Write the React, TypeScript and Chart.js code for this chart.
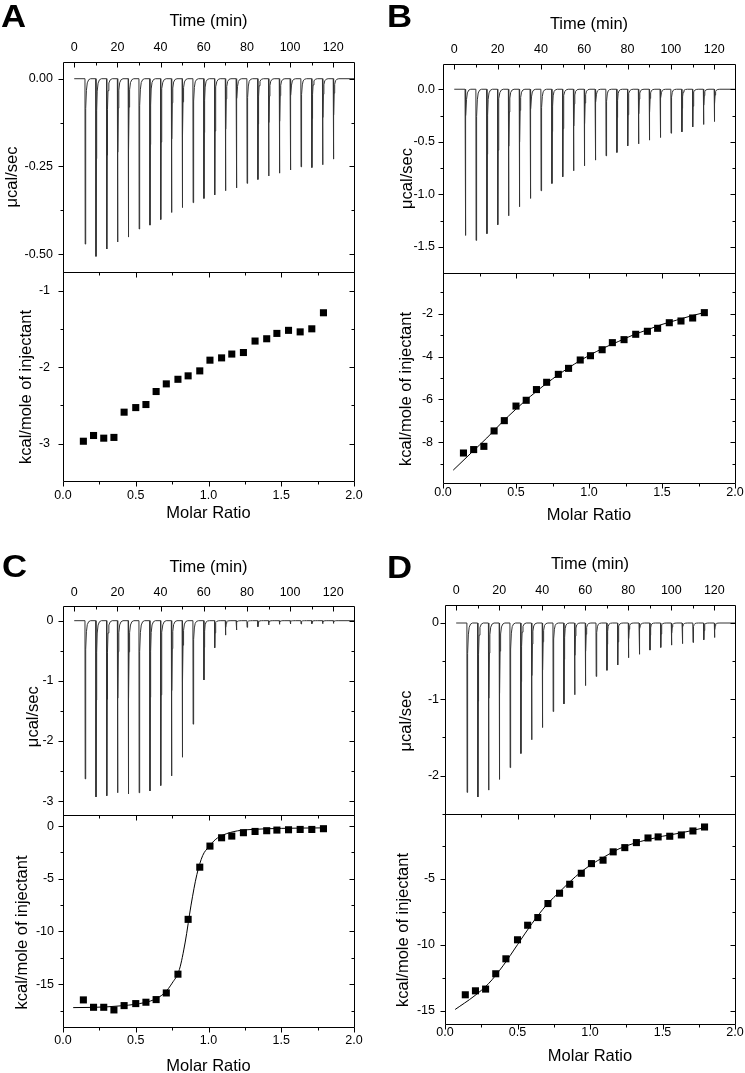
import React, { useEffect, useRef } from 'react';
import { Chart, registerables } from 'chart.js';

Chart.register(...registerables);

// ---------------- DATA ----------------
const injectionTimes = [5, 10, 15, 20, 25, 30, 35, 40, 45, 50, 55, 60, 65, 70, 75, 80, 85, 90, 95, 100, 105, 110, 115, 120];

const depthA = [-0.471, -0.506, -0.485, -0.465, -0.451, -0.428, -0.417, -0.401, -0.381, -0.367, -0.353, -0.341, -0.331, -0.319, -0.311, -0.298, -0.287, -0.277, -0.269, -0.260, -0.251, -0.253, -0.245, -0.229];
const depthB = [-1.39, -1.437, -1.373, -1.288, -1.203, -1.117, -1.038, -0.965, -0.896, -0.832, -0.775, -0.728, -0.674, -0.633, -0.601, -0.538, -0.519, -0.484, -0.459, -0.418, -0.405, -0.358, -0.335, -0.307];
const depthC = [-2.63, -2.93, -2.91, -2.86, -2.88, -2.86, -2.83, -2.74, -2.58, -2.27, -1.72, -0.985, -0.45, -0.24, -0.155, -0.11, -0.10, -0.07, -0.06, -0.055, -0.055, -0.05, -0.05, -0.045];
const depthD = [-2.22, -2.28, -2.19, -2.05, -1.895, -1.71, -1.53, -1.37, -1.16, -1.06, -0.94, -0.82, -0.70, -0.62, -0.55, -0.455, -0.41, -0.355, -0.32, -0.29, -0.27, -0.255, -0.22, -0.19];

const molarRatio = [0.14, 0.21, 0.28, 0.35, 0.42, 0.50, 0.57, 0.64, 0.71, 0.79, 0.86, 0.94, 1.01, 1.09, 1.16, 1.24, 1.32, 1.40, 1.47, 1.55, 1.63, 1.71, 1.79];

const heatA = [-2.97, -2.895, -2.93, -2.92, -2.59, -2.53, -2.49, -2.32, -2.22, -2.16, -2.115, -2.05, -1.91, -1.88, -1.83, -1.81, -1.66, -1.63, -1.56, -1.52, -1.54, -1.50, -1.29];
const heatB = [-8.50, -8.34, -8.19, -7.47, -6.99, -6.31, -6.04, -5.54, -5.20, -4.83, -4.55, -4.16, -3.96, -3.68, -3.35, -3.21, -2.96, -2.82, -2.68, -2.42, -2.34, -2.20, -1.95];
const heatC = [-16.49, -17.19, -17.19, -17.44, -17.03, -16.84, -16.71, -16.46, -15.83, -14.05, -8.85, -3.90, -1.90, -1.11, -0.95, -0.63, -0.51, -0.44, -0.38, -0.35, -0.32, -0.32, -0.25];
const heatD = [-13.79, -13.49, -13.36, -12.20, -11.07, -9.63, -8.53, -7.95, -6.89, -6.11, -5.43, -4.60, -3.87, -3.61, -2.98, -2.66, -2.28, -1.93, -1.85, -1.80, -1.70, -1.40, -1.10];

const fitXB = [0.07, 0.2, 0.3, 0.4, 0.5, 0.6, 0.7, 0.8, 0.9, 1.0, 1.1, 1.2, 1.3, 1.4, 1.5, 1.6, 1.7, 1.8];
const fitYB = [-9.3, -8.45, -7.8, -7.1, -6.45, -5.85, -5.3, -4.8, -4.35, -3.95, -3.6, -3.3, -3.0, -2.75, -2.5, -2.3, -2.1, -1.93];

const fitXC = [0.07, 0.2, 0.3, 0.4, 0.5, 0.6, 0.65, 0.7, 0.75, 0.8, 0.84, 0.88, 0.92, 0.96, 1.0, 1.05, 1.1, 1.2, 1.3, 1.5, 1.8];
const fitYC = [-17.22, -17.2, -17.15, -17.05, -16.9, -16.6, -16.3, -15.8, -14.9, -13.6, -11.0, -7.5, -4.6, -2.8, -2.0, -1.25, -0.85, -0.45, -0.32, -0.22, -0.17];

const fitXD = [0.07, 0.2, 0.3, 0.4, 0.5, 0.6, 0.7, 0.8, 0.9, 1.0, 1.1, 1.2, 1.3, 1.4, 1.5, 1.6, 1.7, 1.79];
const fitYD = [-14.9, -13.9, -12.95, -11.6, -10.0, -8.4, -7.0, -5.9, -4.85, -4.0, -3.35, -2.75, -2.35, -2.05, -1.8, -1.6, -1.38, -1.15];

const timeTicks = { min: -5.2, max: 129.6, major: 20, minor: 10 };
const ratioTicks = { min: 0, max: 2, major: 0.5, minor: 0.25 };

// ---------------- STYLE / LAYOUT ----------------
const FONT = "'Liberation Sans', Arial, Helvetica, sans-serif";
const TICK_FONT = { family: FONT, size: 12.5 };
const TITLE_FONT = { family: FONT, size: 16.5, lineHeight: 1.2 };

const PANELS = [
  {
    letter: 'A', colLeft: 0, colW: 372, chartL: 63, chartR: 354, topCanvasTop: 0, chartT: 62, mid: 272, chartB: 481, botCanvasBottom: 530,
    timeLabelY: 47.5, timeTitleY: 21.5, molarLabelY: 496, molarTitleY: 513.5, gapTop: 10, gapBot: 13,
    yTitleTop: [12.5, 177], yTitleBot: [26.5, 387], letterPos: [1, 27],
    depths: depthA, heat: heatA, fitX: null, fitY: null,
    topY: [-0.5505, 0.0476], topMajor: 0.25, topMinor: 0.125, topDec: 2,
    botY: [-3.49, -0.757], botMajor: 1, botMinor: 0.5,
  },
  {
    letter: 'B', colLeft: 372, colW: 373, chartL: 443, chartR: 735, topCanvasTop: 0, chartT: 64, mid: 273, chartB: 483, botCanvasBottom: 530,
    timeLabelY: 50, timeTitleY: 24.5, molarLabelY: 492.5, molarTitleY: 515, gapTop: 8, gapBot: 10,
    yTitleTop: [407, 178.5], yTitleBot: [406, 389], letterPos: [387, 27],
    depths: depthB, heat: heatB, fitX: fitXB, fitY: fitYB,
    topY: [-1.747, 0.24], topMajor: 0.5, topMinor: 0.25, topDec: 1,
    botY: [-9.9, -0.1], botMajor: 2, botMinor: 1,
  },
  {
    letter: 'C', colLeft: 0, colW: 372, chartL: 63, chartR: 354, topCanvasTop: 530, chartT: 606, mid: 815, chartB: 1027, botCanvasBottom: 1085,
    timeLabelY: 592.5, timeTitleY: 567, molarLabelY: 1041, molarTitleY: 1066, gapTop: 9.5, gapBot: 9,
    yTitleTop: [33, 716.7], yTitleBot: [22, 932.5], letterPos: [2, 577],
    depths: depthC, heat: heatC, fitX: fitXC, fitY: fitYC,
    topY: [-3.23, 0.244], topMajor: 1, topMinor: 0.5, topDec: 0,
    botY: [-19.06, 1.05], botMajor: 5, botMinor: 2.5,
  },
  {
    letter: 'D', colLeft: 372, colW: 373, chartL: 445, chartR: 735, topCanvasTop: 530, chartT: 605, mid: 814, chartB: 1024, botCanvasBottom: 1085,
    timeLabelY: 591, timeTitleY: 564.5, molarLabelY: 1033, molarTitleY: 1056.5, gapTop: 6, gapBot: 10,
    yTitleTop: [406.5, 721], yTitleBot: [403.5, 930], letterPos: [387, 578],
    depths: depthD, heat: heatD, fitX: fitXD, fitY: fitYD,
    topY: [-2.503, 0.236], topMajor: 1, topMinor: 0.5, topDec: 0,
    botY: [-16.0, -0.117], botMajor: 5, botMinor: 2.5,
  },
];

// Thermogram trace: each injection is a sharp exothermic spike that relaxes quickly back to the baseline.
function buildTrace(depths: number[]) {
  const pts: { x: number; y: number }[] = [{ x: 0, y: 0 }];
  injectionTimes.forEach((t, i) => {
    const d = depths[i];
    pts.push(
      { x: t - 0.02, y: 0 },
      { x: t + 0.08, y: d },
      { x: t + 0.22, y: d * 0.45 },
      { x: t + 0.4, y: d * 0.18 },
      { x: t + 0.65, y: d * 0.07 },
      { x: t + 1.05, y: d * 0.025 },
      { x: t + 1.7, y: d * 0.006 },
      { x: t + 2.6, y: 0 }
    );
  });
  pts.push({ x: 131, y: 0 });
  return pts;
}

function tickList(min: number, max: number, major: number, minor: number) {
  const out: [number, number][] = [];
  const k0 = Math.ceil((min - 1e-9) / minor);
  const k1 = Math.floor((max + 1e-9) / minor);
  for (let k = k0; k <= k1; k++) {
    const v = k * minor;
    const r = v / major;
    const isMajor = Math.abs(r - Math.round(r)) < 1e-6;
    out.push([v, isMajor ? 5 : 3]);
  }
  return out;
}

type EdgeSpec = { side: 'top' | 'bottom' | 'left' | 'right'; axis: 'x' | 'y'; dir: number };

function makeFrame(o: {
  edges: EdgeSpec[];
  xMajor: number; xMinor: number; yMajor: number; yMinor: number;
  yTitle: { text: string; x: number; y: number };
  letter?: { text: string; x: number; y: number };
}) {
  return {
    id: 'frameTicks',
    afterDraw(chart: any) {
      const { ctx, chartArea: a } = chart;
      const L = Math.round(a.left) + 0.5;
      const R = Math.round(a.right) + 0.5;
      const T = Math.round(a.top) + 0.5;
      const B = Math.round(a.bottom) + 0.5;
      ctx.save();
      ctx.strokeStyle = '#000';
      ctx.lineWidth = 1;
      ctx.beginPath();
      ctx.moveTo(L, T);
      ctx.lineTo(R, T);
      ctx.lineTo(R, B);
      ctx.lineTo(L, B);
      ctx.closePath();
      ctx.stroke();
      for (const e of o.edges) {
        const sc = chart.scales[e.axis];
        const major = e.axis === 'x' ? o.xMajor : o.yMajor;
        const minor = e.axis === 'x' ? o.xMinor : o.yMinor;
        for (const [v, len] of tickList(sc.min, sc.max, major, minor)) {
          const p = Math.round(sc.getPixelForValue(v)) + 0.5;
          ctx.beginPath();
          if (e.side === 'top') { ctx.moveTo(p, T); ctx.lineTo(p, T + e.dir * len); }
          else if (e.side === 'bottom') { ctx.moveTo(p, B); ctx.lineTo(p, B - e.dir * len); }
          else if (e.side === 'left') { ctx.moveTo(L, p); ctx.lineTo(L + e.dir * len, p); }
          else { ctx.moveTo(R, p); ctx.lineTo(R - e.dir * len, p); }
          ctx.stroke();
        }
      }
      ctx.fillStyle = '#000';
      ctx.font = `16.5px ${FONT}`;
      ctx.textAlign = 'center';
      ctx.textBaseline = 'middle';
      ctx.save();
      ctx.translate(o.yTitle.x, o.yTitle.y);
      ctx.rotate(-Math.PI / 2);
      ctx.fillText(o.yTitle.text, 0, 0);
      ctx.restore();
      if (o.letter) {
        ctx.save();
        ctx.font = `bold 31px ${FONT}`;
        ctx.textAlign = 'left';
        ctx.textBaseline = 'alphabetic';
        ctx.translate(o.letter.x, o.letter.y);
        ctx.scale(1.12, 1);
        ctx.fillText(o.letter.text, 0, 0);
        ctx.restore();
      }
      ctx.restore();
    },
  };
}

const fixSize = (w: number | null, h: number | null) => (s: any) => {
  if (w !== null) s.width = w;
  if (h !== null) s.height = h;
  s.paddingLeft = 0; s.paddingRight = 0; s.paddingTop = 0; s.paddingBottom = 0;
};

const fmt = (dec: number) => (v: any) => {
  const n = Math.abs(Number(v)) < 1e-9 ? 0 : Number(v);
  return n.toFixed(dec);
};

function topConfig(p: any) {
  const canvasTop = p.topCanvasTop;
  const padRight = p.colLeft + p.colW - p.chartR;
  return {
    type: 'line',
    data: {
      datasets: [{
        data: buildTrace(p.depths),
        borderColor: '#333333',
        borderWidth: 1,
        pointRadius: 0,
        tension: 0,
        fill: false,
      }],
    },
    options: {
      responsive: false,
      animation: false,
      events: [],
      layout: { padding: { left: 0, top: 0, right: padRight, bottom: 20 } },
      plugins: { legend: { display: false }, tooltip: { enabled: false } },
      scales: {
        x: {
          type: 'linear', position: 'top', min: timeTicks.min, max: timeTicks.max,
          afterFit: fixSize(null, p.chartT - canvasTop),
          grid: { display: false, drawTicks: false, tickLength: 0 },
          border: { display: false },
          ticks: {
            stepSize: timeTicks.major, includeBounds: false, autoSkip: false, maxRotation: 0,
            padding: (p.chartT - p.timeLabelY) - 7.5, font: TICK_FONT, color: '#000',
            callback: fmt(0),
          },
          title: {
            display: true, text: 'Time (min)', font: TITLE_FONT, color: '#000',
            padding: { top: (p.timeTitleY - canvasTop) - 9.9, bottom: 0 },
          },
        },
        y: {
          type: 'linear', position: 'left', min: p.topY[0], max: p.topY[1],
          afterFit: fixSize(p.chartL - p.colLeft, null),
          grid: { display: false, drawTicks: false, tickLength: 0 },
          border: { display: false },
          ticks: {
            stepSize: p.topMajor, includeBounds: false, autoSkip: false,
            padding: p.gapTop, font: TICK_FONT, color: '#000', callback: fmt(p.topDec),
          },
          title: { display: false },
        },
      },
    },
    plugins: [makeFrame({
      edges: [
        { side: 'top', axis: 'x', dir: 1 },
        { side: 'left', axis: 'y', dir: -1 },
        { side: 'right', axis: 'y', dir: 1 },
      ],
      xMajor: timeTicks.major, xMinor: timeTicks.minor, yMajor: p.topMajor, yMinor: p.topMinor,
      yTitle: { text: 'μcal/sec', x: p.yTitleTop[0] - p.colLeft, y: p.yTitleTop[1] - canvasTop },
      letter: { text: p.letter, x: p.letterPos[0] - p.colLeft, y: p.letterPos[1] - canvasTop },
    })],
  };
}

function bottomConfig(p: any) {
  const canvasTop = p.mid - 20;
  const padRight = p.colLeft + p.colW - p.chartR;
  const datasets: any[] = [{
    data: molarRatio.map((x, i) => ({ x, y: p.heat[i] })),
    showLine: false,
    pointStyle: 'rect',
    pointRadius: 5,
    pointBackgroundColor: '#000',
    pointBorderColor: '#000',
    pointBorderWidth: 0,
  }];
  if (p.fitX) {
    datasets.push({
      data: p.fitX.map((x: number, i: number) => ({ x, y: p.fitY[i] })),
      borderColor: '#000',
      borderWidth: 1,
      pointRadius: 0,
      cubicInterpolationMode: 'monotone',
      fill: false,
    });
  }
  return {
    type: 'line',
    data: { datasets },
    options: {
      responsive: false,
      animation: false,
      events: [],
      layout: { padding: { left: 0, top: 20, right: padRight, bottom: 0 } },
      plugins: { legend: { display: false }, tooltip: { enabled: false } },
      scales: {
        x: {
          type: 'linear', position: 'bottom', min: ratioTicks.min, max: ratioTicks.max,
          afterFit: fixSize(null, p.botCanvasBottom - p.chartB),
          grid: { display: false, drawTicks: false, tickLength: 0 },
          border: { display: false },
          ticks: {
            stepSize: ratioTicks.major, includeBounds: false, autoSkip: false, maxRotation: 0,
            padding: (p.molarLabelY - p.chartB) - 7.5, font: TICK_FONT, color: '#000',
            callback: fmt(1),
          },
          title: {
            display: true, text: 'Molar Ratio', font: TITLE_FONT, color: '#000',
            padding: { top: 0, bottom: (p.botCanvasBottom - p.molarTitleY) - 9.9 },
          },
        },
        y: {
          type: 'linear', position: 'left', min: p.botY[0], max: p.botY[1],
          afterFit: fixSize(p.chartL - p.colLeft, null),
          grid: { display: false, drawTicks: false, tickLength: 0 },
          border: { display: false },
          ticks: {
            stepSize: p.botMajor, includeBounds: false, autoSkip: false,
            padding: p.gapBot, font: TICK_FONT, color: '#000', callback: fmt(0),
          },
          title: { display: false },
        },
      },
    },
    plugins: [makeFrame({
      edges: [
        { side: 'top', axis: 'x', dir: 1 },
        { side: 'bottom', axis: 'x', dir: -1 },
        { side: 'left', axis: 'y', dir: -1 },
        { side: 'right', axis: 'y', dir: 1 },
      ],
      xMajor: ratioTicks.major, xMinor: ratioTicks.minor, yMajor: p.botMajor, yMinor: p.botMinor,
      yTitle: { text: 'kcal/mole of injectant', x: p.yTitleBot[0] - p.colLeft, y: p.yTitleBot[1] - canvasTop },
    })],
  };
}

function ChartCanvas({ left, top, width, height, make }: { left: number; top: number; width: number; height: number; make: () => any }) {
  const ref = useRef<HTMLCanvasElement | null>(null);
  useEffect(() => {
    if (!ref.current) return;
    const chart = new Chart(ref.current, make());
    return () => chart.destroy();
  }, []);
  return (
    <canvas
      ref={ref}
      width={width}
      height={height}
      style={{ position: 'absolute', left, top, width, height, display: 'block' }}
    />
  );
}

export default function App() {
  const items: any[] = [];
  PANELS.forEach((p) => {
    items.push({
      key: p.letter + '-top', left: p.colLeft, top: p.topCanvasTop, width: p.colW,
      height: p.mid + 20 - p.topCanvasTop, make: () => topConfig(p),
    });
    items.push({
      key: p.letter + '-bot', left: p.colLeft, top: p.mid - 20, width: p.colW,
      height: p.botCanvasBottom - (p.mid - 20), make: () => bottomConfig(p),
    });
  });
  return (
    <div style={{ position: 'absolute', left: 0, top: 0, width: 745, height: 1073, overflow: 'hidden', background: '#fff' }}>
      {items.map((it) => (
        <ChartCanvas key={it.key} left={it.left} top={it.top} width={it.width} height={it.height} make={it.make} />
      ))}
    </div>
  );
}
